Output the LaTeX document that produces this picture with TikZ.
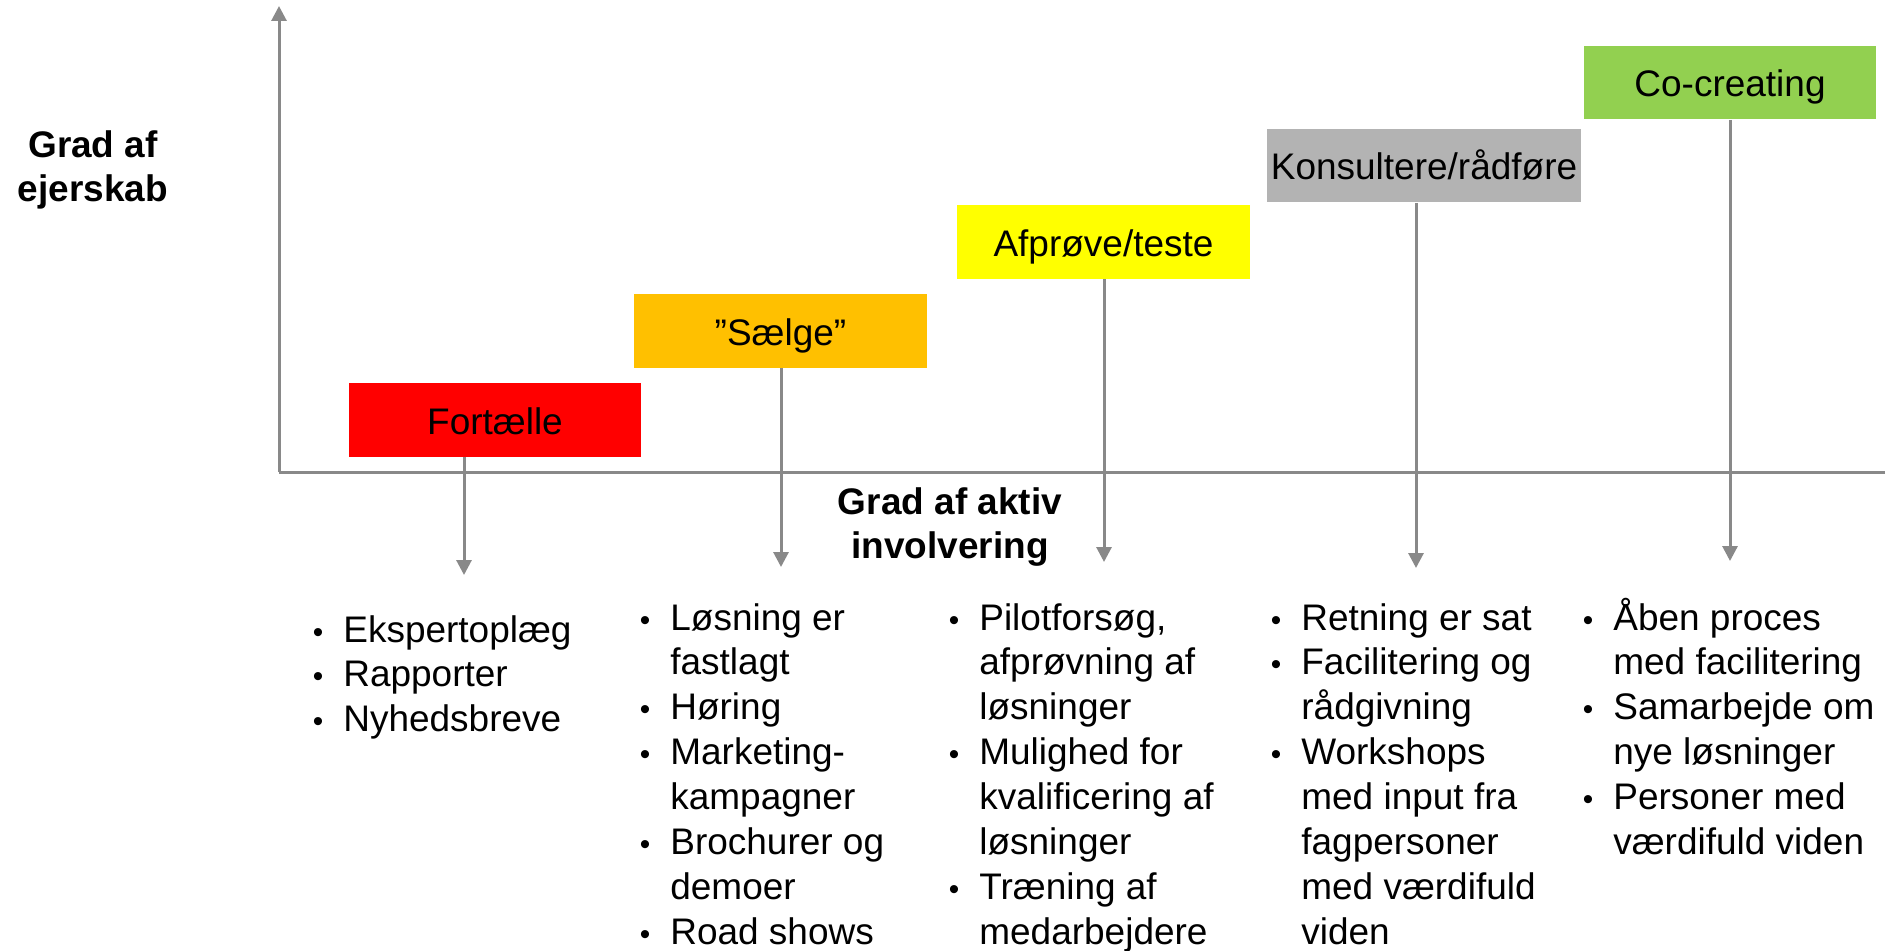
\documentclass[tikz,border=0pt]{standalone}
\usepackage{fontspec}
\setmainfont{Liberation Sans}
\usepackage{xcolor}
\usetikzlibrary{arrows.meta}
\definecolor{axisgray}{HTML}{898989}
\definecolor{tellred}{HTML}{FF0000}
\definecolor{sellorange}{HTML}{FFC000}
\definecolor{testyellow}{HTML}{FFFF00}
\definecolor{consultgray}{HTML}{B3B3B3}
\definecolor{cocreategreen}{HTML}{92D050}
\newcommand{\slidefont}{\fontsize{21.05}{25.6}\selectfont}
\newcommand{\bul}{\llap{\makebox[0.61cm][l]{\fontsize{17}{17}\selectfont\textbullet}}}

\begin{document}
\begin{tikzpicture}[x=0.02cm, y=-0.02cm, every node/.style={font=\slidefont, inner sep=0pt},
    stage/.style={minimum height=1.48cm, text height=0.56cm, text depth=0pt},
    points/.style={anchor=base west},
    flow/.style={draw=axisgray, line width=0.06cm, -{Triangle[width=0.3cm,length=0.3cm]}}]
  \useasboundingbox (0,0) rectangle (1885,950);
  \coordinate (origin) at (279,472);
  \coordinate (yTop) at (279,6);
  \coordinate (xEnd) at (1885,472);
  \draw[flow] (origin) -- (yTop);
  \draw[axisgray, line width=0.06cm] (origin) -- (xEnd);
  \node[anchor=base, font=\slidefont\bfseries] (ownLabel) at (93,157) {\begin{tabular}[t]{@{}c@{}}Grad af\\ ejerskab\end{tabular}};
  \node[anchor=base, font=\slidefont\bfseries] (involveLabel) at (950,514) {\begin{tabular}[t]{@{}c@{}}Grad af aktiv\\ involvering\end{tabular}};

  \node[stage, fill=tellred, minimum width=5.84cm] (tell) at (495,420) {Fortælle};
  \node[stage, fill=sellorange, minimum width=5.86cm] (sell) at (780.5,331) {”Sælge”};
  \node[stage, fill=testyellow, minimum width=5.86cm] (test) at (1103.5,242) {Afprøve/teste};
  \node[stage, fill=consultgray, minimum width=6.28cm] (consult) at (1424,165.5) {Konsultere/rådføre};
  \node[stage, fill=cocreategreen, minimum width=5.84cm] (cocreate) at (1730,82.5) {Co-creating};

  \coordinate (tellTip) at (464,575);
  \coordinate (sellTip) at (781,567);
  \coordinate (testTip) at (1104,562);
  \coordinate (consultTip) at (1416,568);
  \coordinate (cocreateTip) at (1730,561);
  \foreach \s in {tell,sell,test,consult,cocreate}
    \draw[flow] (\s.south -| \s Tip) -- (\s Tip);

  \node[points] (tellList) at (343,642) {\begin{tabular}[t]{@{}l@{}}\bul Ekspertoplæg\\ \bul Rapporter\\ \bul Nyhedsbreve\end{tabular}};
  \node[points] (sellList) at (670,630) {\begin{tabular}[t]{@{}l@{}}\bul Løsning er\\ fastlagt\\ \bul Høring\\ \bul Marketing-\\ kampagner\\ \bul Brochurer og\\ demoer\\ \bul Road shows\end{tabular}};
  \node[points] (testList) at (979,630) {\begin{tabular}[t]{@{}l@{}}\bul Pilotforsøg,\\ afprøvning af\\ løsninger\\ \bul Mulighed for\\ kvalificering af\\ løsninger\\ \bul Træning af\\ medarbejdere\end{tabular}};
  \node[points] (consultList) at (1301,630) {\begin{tabular}[t]{@{}l@{}}\bul Retning er sat\\ \bul Facilitering og\\ rådgivning\\ \bul Workshops\\ med input fra\\ fagpersoner\\ med værdifuld\\ viden\end{tabular}};
  \node[points] (cocreateList) at (1613,630) {\begin{tabular}[t]{@{}l@{}}\bul Åben proces\\ med facilitering\\ \bul Samarbejde om\\ nye løsninger\\ \bul Personer med\\ værdifuld viden\end{tabular}};
\end{tikzpicture}
\end{document}
